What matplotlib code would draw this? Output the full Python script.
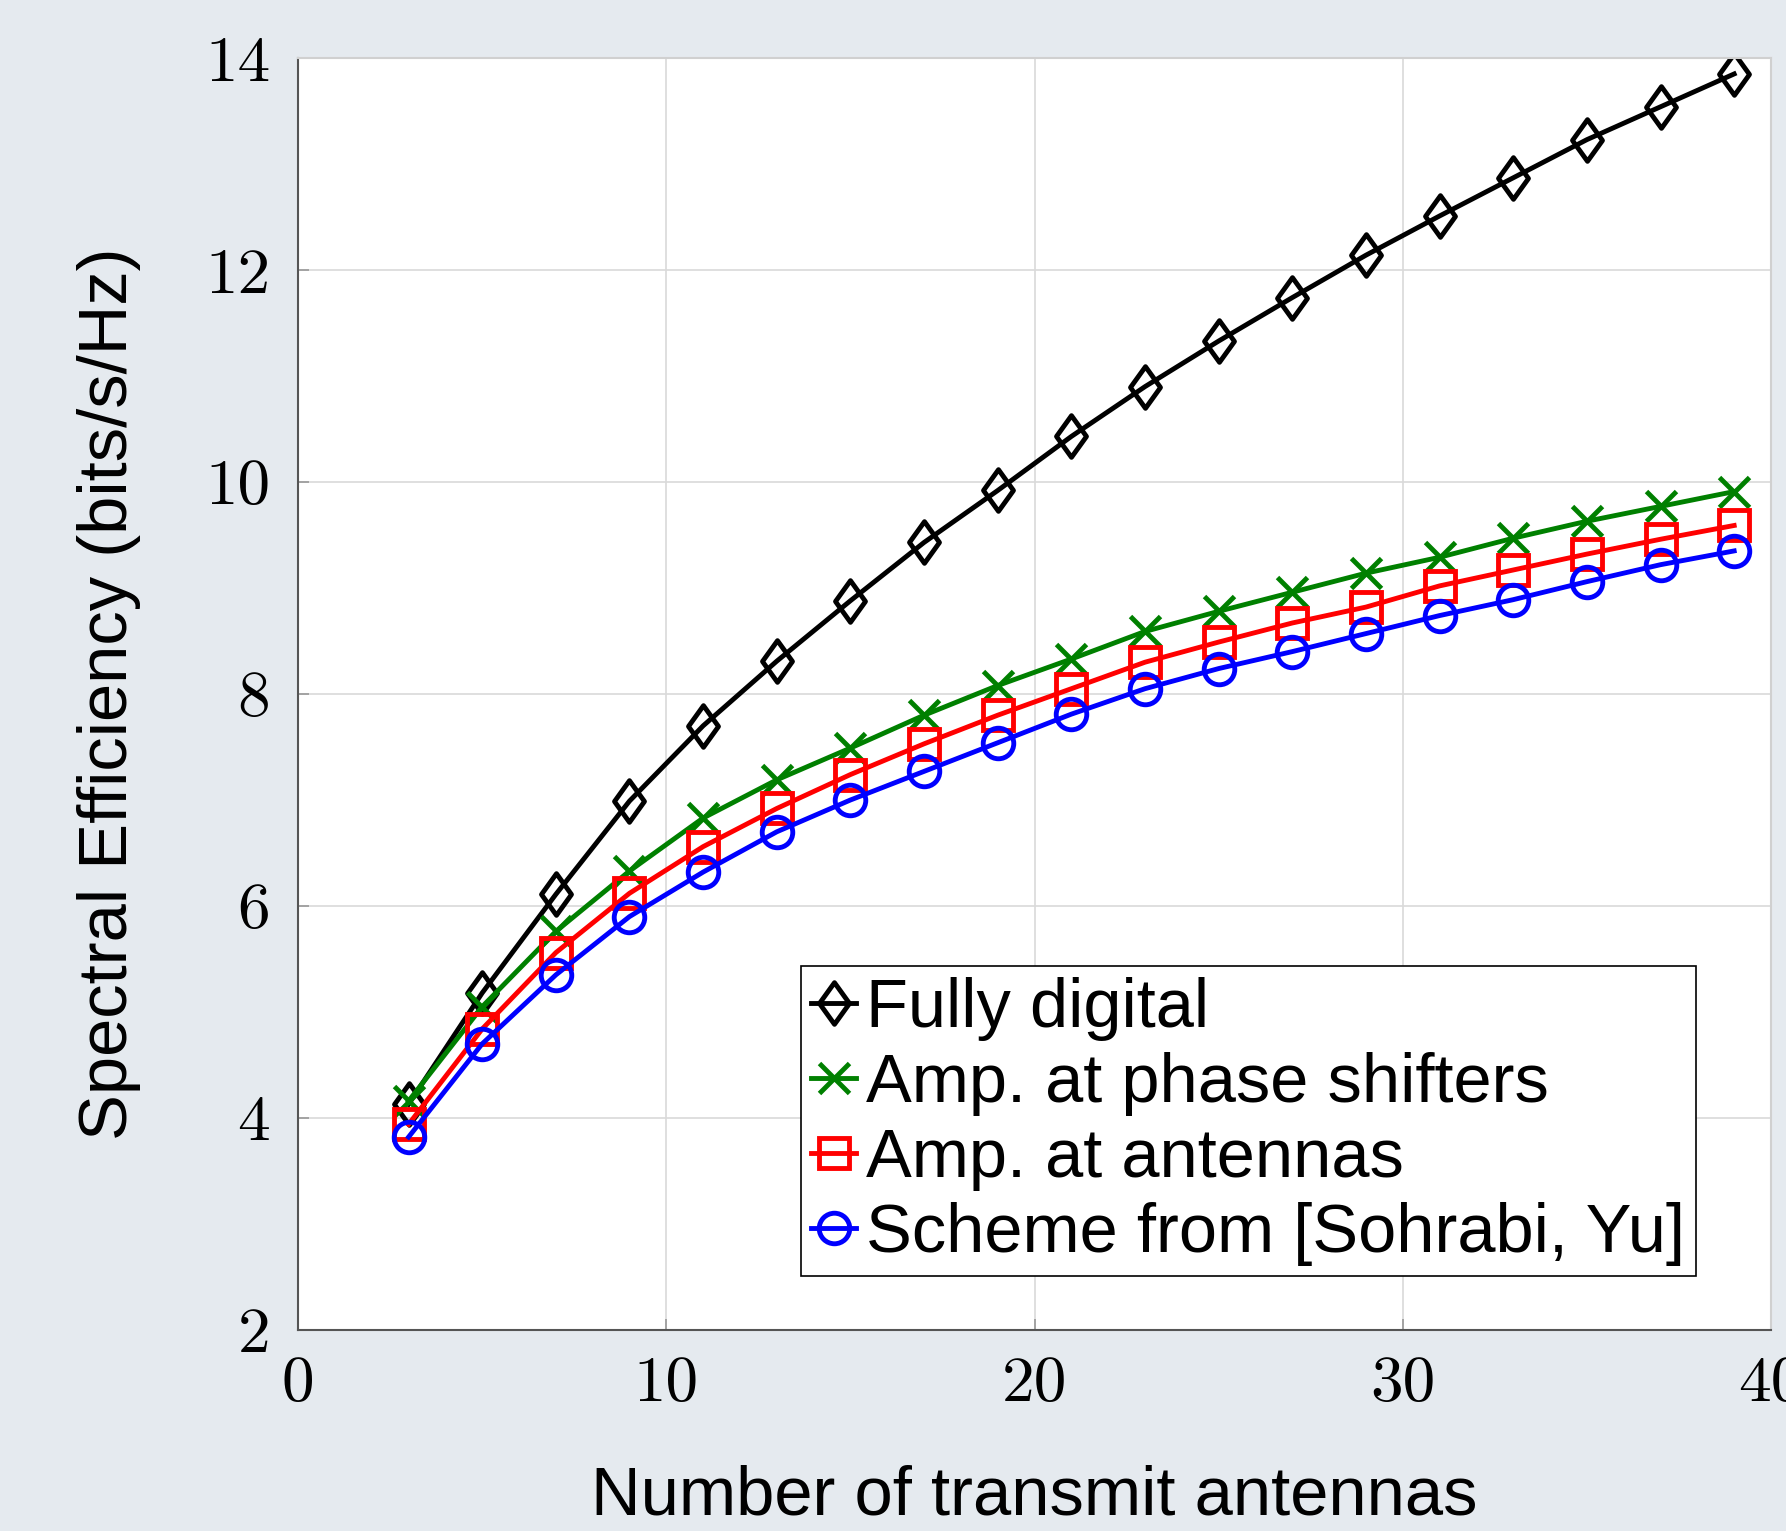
import matplotlib
matplotlib.use("Agg")
import matplotlib.pyplot as plt
from matplotlib.path import Path

# ---- data ----
antennas = [3, 5, 7, 9, 11, 13, 15, 17, 19, 21, 23, 25, 27, 29, 31, 33, 35, 37, 39]
fully_digital = [4.13, 5.18, 6.11, 6.99, 7.70, 8.31, 8.88, 9.43, 9.92, 10.43,
                 10.90, 11.33, 11.74, 12.14, 12.51, 12.87, 13.23, 13.54, 13.85]
amp_phase_shifters = [4.16, 5.05, 5.76, 6.33, 6.83, 7.19, 7.49, 7.80, 8.08, 8.33,
                      8.59, 8.78, 8.96, 9.14, 9.29, 9.47, 9.63, 9.77, 9.91]
amp_antennas = [3.94, 4.84, 5.56, 6.12, 6.56, 6.92, 7.24, 7.53, 7.80, 8.05,
                8.30, 8.49, 8.67, 8.82, 9.02, 9.17, 9.32, 9.46, 9.59]
sohrabi_yu = [3.82, 4.70, 5.35, 5.90, 6.32, 6.70, 7.00, 7.27, 7.54, 7.81,
              8.05, 8.24, 8.40, 8.57, 8.74, 8.89, 9.06, 9.22, 9.35]
labels = ["Fully digital", "Amp. at phase shifters", "Amp. at antennas",
          "Scheme from [Sohrabi, Yu]"]
xticks = [0, 10, 20, 30, 40]
yticks = [2, 4, 6, 8, 10, 12, 14]

BG = "#E5EAEF"
fig = plt.figure(figsize=(17.86, 15.31), dpi=100, facecolor=BG)
ax = fig.add_axes([0.1669, 0.1313, 0.8247, 0.8308])
ax.set_facecolor("white")

diamond = Path([(0, 1), (0.72, 0), (0, -1), (-0.72, 0), (0, 1)],
               [Path.MOVETO, Path.LINETO, Path.LINETO, Path.LINETO, Path.CLOSEPOLY])

lw = 3.5
series = [
    (fully_digital, "black", diamond, 30),
    (amp_phase_shifters, "#008000", "x", 21),
    (amp_antennas, "#FF0000", "s", 21.5),
    (sohrabi_yu, "#0000FF", "o", 22),
]
for (vals, col, mk, ms), lab in zip(series, labels):
    ax.plot(antennas, vals, color=col, lw=lw, marker=mk, ms=ms, mew=lw,
            mfc="none", mec=col, label=lab, solid_joinstyle="round")

ax.set_xlim(0, 40)
ax.set_ylim(2, 14)
ax.set_xticks(xticks)
ax.set_yticks(yticks)
ax.set_xticklabels([str(t) for t in xticks], fontfamily="cmr10", fontsize=47)
ax.set_yticklabels([str(t) for t in yticks], fontfamily="cmr10", fontsize=47)
ax.tick_params(direction="in", length=8, width=1.2, color="#999999")
ax.tick_params(axis="x", pad=19)
ax.tick_params(axis="y", pad=20)
ax.grid(True, color="#D9D9D9", lw=1.2)
ax.set_axisbelow(True)
for s in ["top", "right"]:
    ax.spines[s].set_color("#D0D0D0")
    ax.spines[s].set_linewidth(1.5)
for s in ["left", "bottom"]:
    ax.spines[s].set_color("#555555")
    ax.spines[s].set_linewidth(1.5)

ax.set_xlabel("Number of transmit antennas", fontfamily="Liberation Sans",
              fontsize=49.5, labelpad=36)
ax.set_ylabel("Spectral Efficiency (bits/s/Hz)", fontfamily="Liberation Sans",
              fontsize=49.5, labelpad=46)

leg = ax.legend(loc="lower left", bbox_to_anchor=(0.3415, 0.0425),
                prop={"family": "Liberation Sans", "size": 49.4},
                handlelength=0.65, handletextpad=0.15, labelspacing=0.16,
                borderpad=0.15, borderaxespad=0.0, fancybox=False,
                framealpha=1.0, edgecolor="black", markerscale=1.0)
leg.get_frame().set_linewidth(1.2)

fig.savefig("out.png", dpi=100, facecolor=BG)
